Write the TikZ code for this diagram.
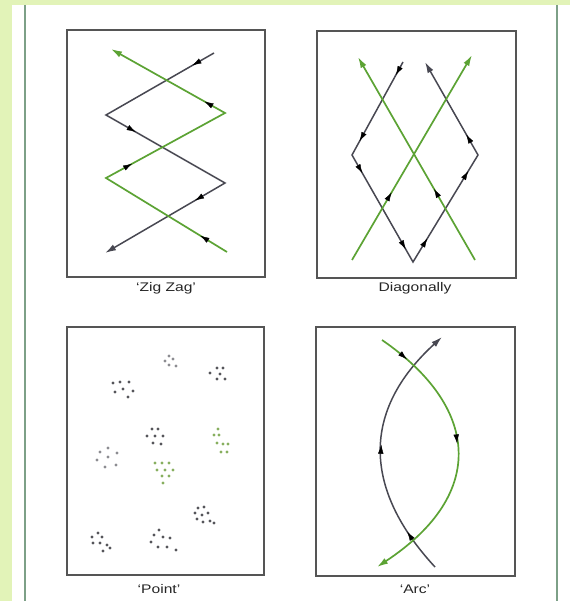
\documentclass[tikz,border=0pt]{standalone}
\usepackage{fontspec}
\setmainfont{Liberation Sans}
\usetikzlibrary{arrows.meta,decorations.markings}
\definecolor{bggreen}{RGB}{226,243,184}
\definecolor{lgreen}{RGB}{92,163,52}
\definecolor{dgrey}{RGB}{72,72,82}
\definecolor{framec}{RGB}{85,85,85}
\definecolor{edgec}{RGB}{125,160,135}
\definecolor{dotgreen}{RGB}{135,175,95}
\definecolor{dotgrey}{RGB}{85,85,90}
\definecolor{dotlight}{RGB}{140,140,145}
\tikzset{
  panel/.style={draw=framec, line width=2pt},
  gline/.style={draw=lgreen, line width=1.7pt},
  kline/.style={draw=dgrey, line width=1.5pt},
  tipend/.style={-{Latex[length=11pt,width=6.5pt]}},
  marks/.style={decoration={markings, mark=at position #1 with {\arrow{Latex[length=9pt,width=5.5pt]}}}, decorate},
  lab/.style={font=\fontsize{12.5}{14}\selectfont, text=black!85, inner sep=0pt},
  dot/.style={circle, inner sep=0pt, minimum size=3.2pt},
}
\begin{document}
\begin{tikzpicture}[x=1pt,y=-1pt]
\useasboundingbox (0,0) rectangle (570,601);
% background
\fill[bggreen] (0,0) rectangle (570,601);
\fill[white] (12,5) rectangle (570,601);
\draw[edgec, line width=1.5pt] (25,5) -- (25,601);
\draw[edgec, line width=1.5pt] (557,5) -- (557,601);
% panels
\draw[panel] (67,30) rectangle (265,277);
\draw[panel] (317,31) rectangle (516,278);
\draw[panel] (67,327) rectangle (264,575);
\draw[panel] (316,327) rectangle (515,576);
% labels
\node[lab] (lzig) at (166,288) {\scalebox{1.25}[1]{‘Zig Zag’}};
\node[lab] (ldia) at (415,288) {\scalebox{1.25}[1]{Diagonally}};
\node[lab] (lpoint) at (159,589) {\scalebox{1.25}[1]{‘Point’}};
\node[lab] (larc) at (415,589) {\scalebox{1.25}[1]{‘Arc’}};
% ---- Zig Zag
\coordinate (g1) at (214,53);
\coordinate (g2) at (106,115);
\coordinate (g3) at (225,183);
\coordinate (g4) at (105,253);
\coordinate (r1) at (227,252);
\coordinate (r2) at (106,178);
\coordinate (r3) at (225,113);
\coordinate (r4) at (111,49);
\draw[kline, tipend] (g1) -- (g2) -- (g3) -- (g4);
\draw[gline, tipend] (r1) -- (r2) -- (r3) -- (r4);
\path[dgrey, marks=0.2] (g1) -- (g2);
\path[dgrey, marks=0.25] (g2) -- (g3);
\path[dgrey, marks=0.25] (g3) -- (g4);
\path[lgreen, marks=0.22] (r1) -- (r2);
\path[lgreen, marks=0.22] (r2) -- (r3);
\path[lgreen, marks=0.18] (r3) -- (r4);
% ---- Diagonally
\coordinate (ga1) at (475,260);
\coordinate (ga2) at (358,57);
\coordinate (gb1) at (352,260);
\coordinate (gb2) at (472,55);
\coordinate (d1) at (403,62);
\coordinate (d2) at (352,155);
\coordinate (d3) at (413,262);
\coordinate (d4) at (478,155);
\coordinate (d5) at (425,62);
\draw[kline, tipend] (d1) -- (d2) -- (d3) -- (d4) -- (d5);
\draw[gline, tipend] (ga1) -- (ga2);
\draw[gline, tipend] (gb1) -- (gb2);
\path[dgrey, marks=0.14] (d1) -- (d2);
\path[dgrey, marks=0.85] (d1) -- (d2);
\path[dgrey, marks=0.17] (d2) -- (d3);
\path[dgrey, marks=0.88] (d2) -- (d3);
\path[dgrey, marks=0.22] (d3) -- (d4);
\path[dgrey, marks=0.85] (d3) -- (d4);
\path[dgrey, marks=0.22] (d4) -- (d5);
\path[lgreen, marks=0.35] (ga1) -- (ga2);
\path[lgreen, marks=0.33] (gb1) -- (gb2);
% ---- Arc
\coordinate (a1) at (435,567);
\coordinate (a2) at (442,337);
\coordinate (b1) at (382,340);
\coordinate (b2) at (377,567);
\draw[kline, tipend] (a1) .. controls (362,488) and (362,410) .. (a2);
\draw[gline, tipend] (b1) .. controls (478,406) and (489,493) .. (b2);
\path[dgrey, marks=0.17] (a1) .. controls (362,488) and (362,410) .. (a2);
\path[dgrey, marks=0.52] (a1) .. controls (362,488) and (362,410) .. (a2);
\path[lgreen, marks=0.11] (b1) .. controls (478,406) and (489,493) .. (b2);
\path[lgreen, marks=0.46] (b1) .. controls (478,406) and (489,493) .. (b2);
% ---- Point
\foreach \p [count=\i] in {(169,356),(165,361),(173,359),(169,365),(176,366),(108,448),(100,452),(117,453),(108,457),(97,460),(116,465),(105,467)}
  \node[dot, fill=dotlight] (pl\i) at \p {};
\foreach \p [count=\i] in {(210,373),(217,368),(223,368),(220,374),(217,379),(225,379),
  (113,383),(120,382),(129,382),(115,392),(123,389),(133,391),(128,397),
  (152,429),(158,429),(147,436),(155,436),(163,436),(153,443),(161,444),
  (198,508),(204,507),(195,513),(202,515),(208,513),(197,519),(203,522),(210,521),(214,523),
  (98,533),(92,537),(102,537),(93,543),(100,543),(107,545),(103,551),(110,548),
  (159,530),(154,535),(163,537),(170,538),(151,542),(158,547),(167,547),(176,550)}
  \node[dot, fill=dotgrey] (pg\i) at \p {};
\foreach \p [count=\i] in {(218,429),(214,435),(219,435),(217,443),(223,444),(228,444),(221,452),(227,452),
  (155,463),(162,463),(169,463),(157,470),(165,470),(173,470),(162,476),(169,476),(163,483)}
  \node[dot, fill=dotgreen] (pn\i) at \p {};
\end{tikzpicture}
\end{document}
